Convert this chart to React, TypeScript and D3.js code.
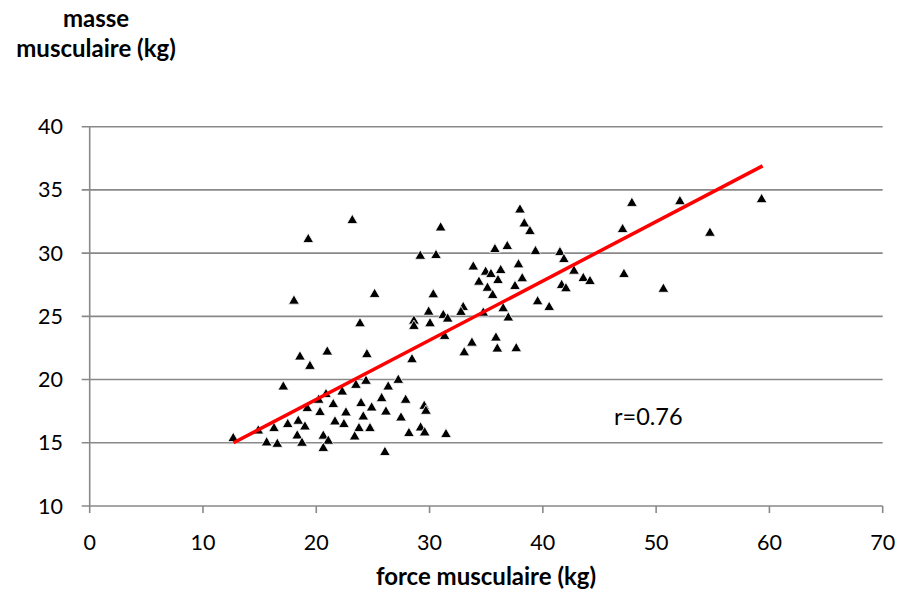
import React from "react";
import * as d3 from "d3";

const forceX: number[] = [
  23.18, 19.29, 30.98, 29.18, 30.57, 18.03, 25.15, 30.33, 29.92, 31.21,
  31.6, 28.62, 28.62, 30.04, 23.86, 31.33, 18.56, 19.44, 20.97, 24.47,
  28.45, 32.97, 33.06, 17.09, 12.67, 14.88, 16.27, 15.62, 16.56, 17.48,
  18.41, 19.0, 18.32, 18.74, 19.21, 20.21, 20.86, 20.33, 21.5, 22.29,
  22.62, 21.65, 22.44, 20.62, 21.06, 20.62, 24.39, 23.5, 27.24, 26.35,
  25.77, 27.89, 23.95, 24.89, 26.15, 24.15, 27.48, 29.53, 29.68, 23.77,
  24.74, 28.18, 29.21, 29.57, 31.45, 23.39, 26.06, 35.77, 36.86, 39.35,
  41.51, 41.86, 33.86, 37.85, 34.95, 35.42, 36.28, 34.36, 36.04, 38.18,
  35.11, 37.54, 42.75, 43.57, 44.16, 41.66, 42.04, 35.57, 39.54, 40.56,
  36.5, 34.74, 36.95, 33.74, 35.86, 35.98, 37.65, 37.98, 38.36, 38.86,
  47.86, 52.1, 47.04, 54.75, 59.31, 47.16, 50.64, 32.77,
];
const masseY: number[] = [
  32.58, 31.08, 32.0, 29.76, 29.82, 26.21, 26.74, 26.71, 25.34, 25.08,
  24.79, 24.63, 24.21, 24.42, 24.42, 23.42, 21.79, 21.05, 22.18, 21.98,
  21.58, 25.71, 22.12, 19.42, 15.34, 15.94, 16.13, 15.0, 14.89, 16.45,
  16.71, 16.26, 15.55, 14.97, 17.71, 18.37, 18.82, 17.4, 18.03, 19.02,
  17.37, 16.66, 16.45, 15.53, 15.13, 14.56, 19.87, 19.55, 19.95, 19.42,
  18.5, 18.37, 18.11, 17.76, 17.44, 17.05, 16.97, 17.89, 17.5, 16.13,
  16.13, 15.74, 16.18, 15.79, 15.66, 15.47, 14.24, 30.29, 30.53, 30.13,
  30.05, 29.5, 28.91, 29.08, 28.5, 28.32, 28.63, 27.71, 27.84, 27.98,
  27.23, 27.37, 28.58, 28.0, 27.76, 27.45, 27.19, 26.66, 26.16, 25.71,
  25.61, 25.26, 24.88, 22.89, 23.29, 22.42, 22.45, 33.42, 32.32, 31.71,
  33.94, 34.08, 31.87, 31.58, 34.24, 28.32, 27.15, 25.32,
];

const regX: number[] = [12.7, 59.4];
const regY: number[] = [15.0, 36.9];

const xTicks: number[] = [0, 10, 20, 30, 40, 50, 60, 70];
const yTicks: number[] = [10, 15, 20, 25, 30, 35, 40];

const yTitleLines: string[] = ["masse", "musculaire (kg)"];
const xTitle = "force musculaire (kg)";
const rLabel = "r=0.76";

export default function App() {
  const W = 899;
  const H = 597;
  const left = 89.7;
  const right = 882.7;
  const top = 126.7;
  const bottom = 506;
  const x = d3.scaleLinear().domain([0, 70]).range([left, right]);
  const y = d3.scaleLinear().domain([10, 40]).range([bottom, top]);
  const tri = d3.symbol().type(d3.symbolTriangle).size(50)() as string;
  const font = "Lato, Carlito, 'Open Sans', sans-serif";
  const grid = "#898989";
  const line = d3
    .line<number>()
    .x((d) => x(d))
    .y((_, i) => y(regY[i]));

  return (
    <svg
      width={W}
      height={H}
      style={{ position: "absolute", left: 0, top: 0, background: "#fff" }}
      fontFamily={font}
    >
      <rect x={0} y={0} width={W} height={H} fill="#fff" />
      {yTicks.map((t) => (
        <line
          key={"g" + t}
          x1={left - 8}
          x2={right}
          y1={y(t)}
          y2={y(t)}
          stroke={grid}
          strokeWidth={1.6}
        />
      ))}
      <line x1={left} x2={left} y1={top} y2={bottom} stroke={grid} strokeWidth={1.6} />
      {xTicks.map((t) => (
        <line
          key={"xt" + t}
          x1={x(t)}
          x2={x(t)}
          y1={bottom}
          y2={bottom + 7}
          stroke={grid}
          strokeWidth={1.6}
        />
      ))}
      {yTicks.map((t) => (
        <text
          key={"yl" + t}
          x={63}
          y={y(t) + 7.5}
          textAnchor="end"
          fontSize={21.5}
          fill="#000"
        >
          {t}
        </text>
      ))}
      {xTicks.map((t) => (
        <text
          key={"xl" + t}
          x={x(t)}
          y={550}
          textAnchor="middle"
          fontSize={21.5}
          fill="#000"
        >
          {t}
        </text>
      ))}
      {forceX.map((fx, i) => (
        <path
          key={"p" + i}
          d={tri}
          transform={`translate(${x(fx)},${y(masseY[i])})`}
          fill="#000"
          stroke="#fff"
          strokeWidth={0.8}
        />
      ))}
      <path d={line(regX) || ""} fill="none" stroke="#ff0000" strokeWidth={3.5} />
      <text x={614} y={425} fontSize={23.5} fill="#000">
        {rLabel}
      </text>
      <text x={96} y={27} textAnchor="middle" fontSize={24} fontWeight="bold" fill="#000">
        {yTitleLines[0]}
      </text>
      <text x={96} y={57} textAnchor="middle" fontSize={24} fontWeight="bold" fill="#000">
        {yTitleLines[1]}
      </text>
      <text x={486} y={585} textAnchor="middle" fontSize={24} fontWeight="bold" fill="#000">
        {xTitle}
      </text>
    </svg>
  );
}
